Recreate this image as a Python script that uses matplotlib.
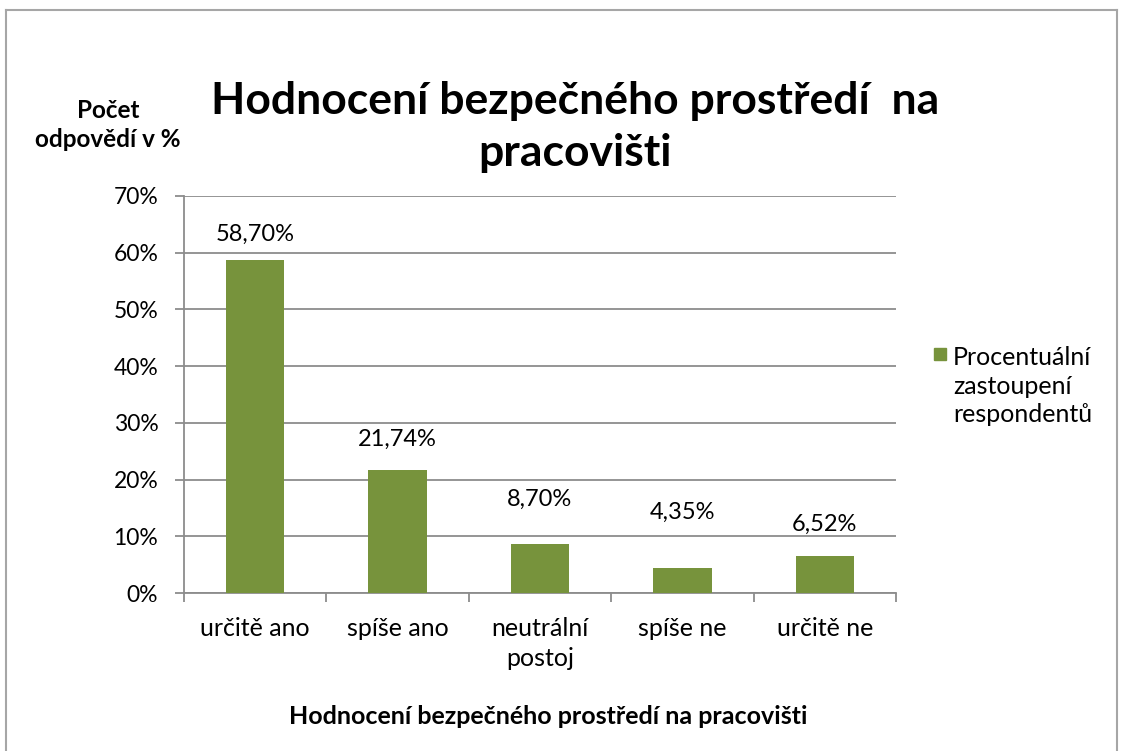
import matplotlib
matplotlib.use("Agg")
import matplotlib.pyplot as plt
from matplotlib.lines import Line2D
from matplotlib.patches import Rectangle

categories = ["určitě ano", "spíše ano", "neutrální\npostoj", "spíše ne", "určitě ne"]
values = [58.70, 21.74, 8.70, 4.35, 6.52]
value_labels = ["58,70%", "21,74%", "8,70%", "4,35%", "6,52%"]
yticks = [0, 10, 20, 30, 40, 50, 60, 70]
ytick_labels = ["0%", "10%", "20%", "30%", "40%", "50%", "60%", "70%"]
title = "Hodnocení bezpečného prostředí  na\npracovišti"
ylabel = "Počet\nodpovědí v %"
xlabel = "Hodnocení bezpečného prostředí na pracovišti"
legend_label = "Procentuální\nzastoupení\nrespondentů"

# label placement offsets above bars (points), as in the original layout
label_offsets = [11, 14, 24, 33, 15]

FONT = ["Lato", "DejaVu Sans"]
plt.rcParams['font.family'] = FONT

W, H = 1129, 751
fig = plt.figure(figsize=(W / 100, H / 100), dpi=100)
fig.patch.set_facecolor("white")

def fx(px):
    return px / W

def fy(py):
    return 1 - py / H

# outer frame
frame_col = "#A6A6A6"
fig.add_artist(Line2D([fx(6), fx(6)], [fy(10), fy(760)], color=frame_col, lw=1.5))
fig.add_artist(Line2D([fx(6), fx(1117)], [fy(10), fy(10)], color=frame_col, lw=1.5))
fig.add_artist(Line2D([fx(1117), fx(1117)], [fy(10), fy(760)], color=frame_col, lw=1.5))

left, right, top, bottom = 184, 896, 196, 593
ax = fig.add_axes([fx(left), fy(bottom), fx(right) - fx(left), fy(top) - fy(bottom)])

bar_color = "#77933C"
grid_col = "#8C8C8C"
x = list(range(len(categories)))
ax.bar(x, values, width=0.41, color=bar_color, zorder=3)

ax.set_xlim(-0.5, len(categories) - 0.5)
ax.set_ylim(0, 70)
ax.set_yticks(yticks)
ax.set_yticklabels(ytick_labels, fontsize=16.5)
ax.yaxis.grid(True, color=grid_col, lw=1.3, zorder=0)
ax.set_axisbelow(True)

for s in ["top", "right"]:
    ax.spines[s].set_visible(False)
for s in ["left", "bottom"]:
    ax.spines[s].set_color(grid_col)
    ax.spines[s].set_linewidth(1.3)

ax.tick_params(axis="y", length=6.5, width=1.3, color=grid_col, pad=12)
ax.set_xticks(x)
ax.set_xticklabels(categories, fontsize=18, linespacing=1.4)
ax.tick_params(axis="x", which="major", length=0, pad=17)
ax.set_xticks([i - 0.5 for i in range(len(categories) + 1)], minor=True)
ax.tick_params(axis="x", which="minor", length=6.5, width=1.3, color=grid_col)

for xi, v, lab, off in zip(x, values, value_labels, label_offsets):
    ax.annotate(lab, (xi, v), xytext=(0, off), textcoords="offset points",
                ha="center", va="bottom", fontsize=17)

fig.text(fx(575), fy(127), title, ha="center", va="center", fontsize=32,
         fontweight="bold", linespacing=1.35)
fig.text(fx(108), fy(125), ylabel, ha="center", va="center", fontsize=17.5,
         fontweight="bold", linespacing=1.3)
fig.text(fx(548), fy(717), xlabel, ha="center", va="center", fontsize=18,
         fontweight="bold")

# legend
fig.add_artist(Rectangle((fx(934), fy(360)), fx(12), 12 / H, color=bar_color,
                         transform=fig.transFigure))
fig.text(fx(953), fy(386), legend_label, ha="left", va="center", fontsize=18,
         linespacing=1.3)

fig.savefig("out.png", dpi=100)
